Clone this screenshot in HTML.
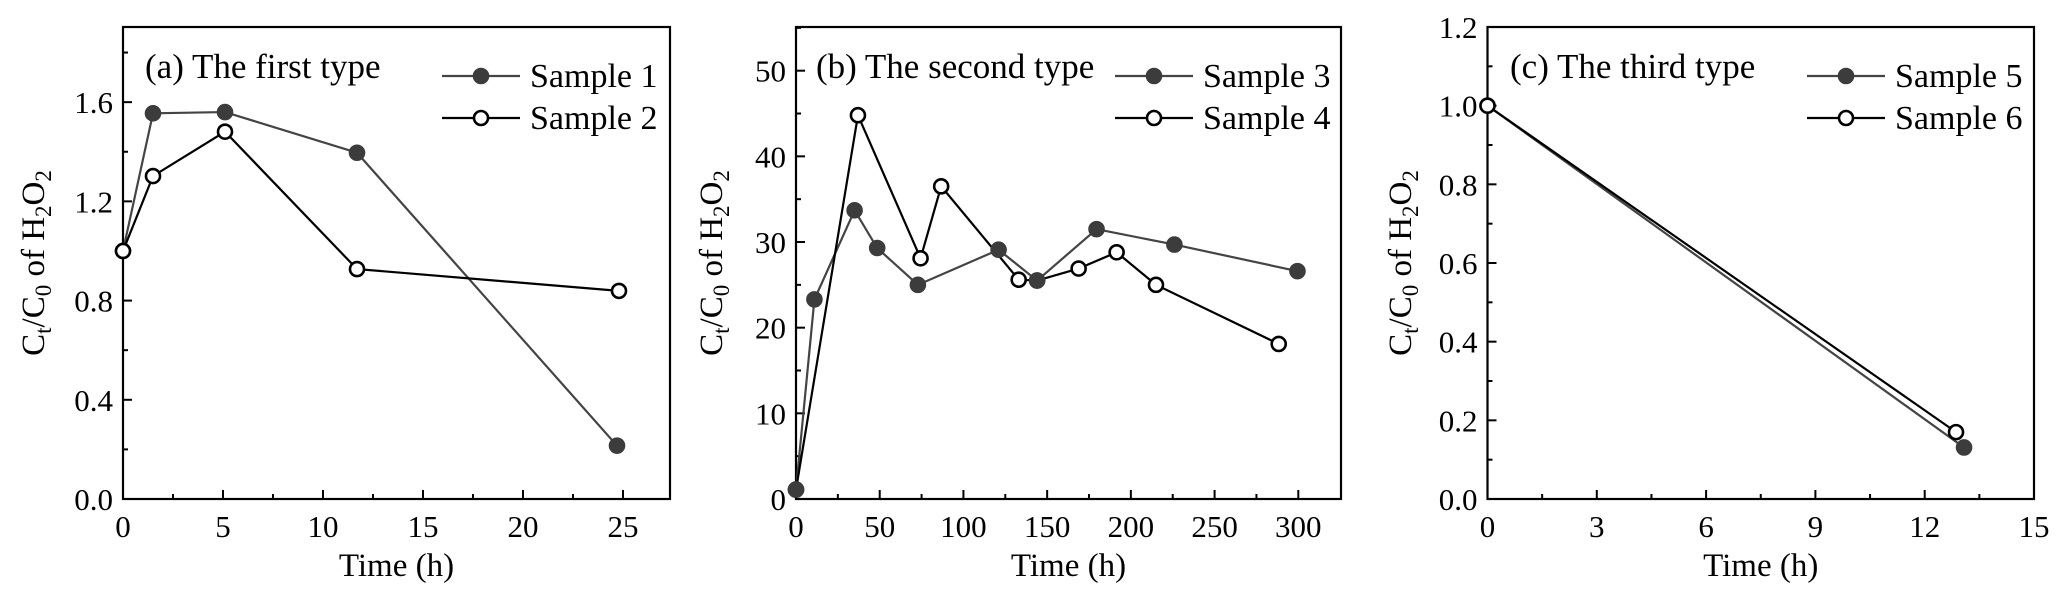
<!DOCTYPE html>
<html><head><meta charset="utf-8"><style>
html,body{margin:0;padding:0;background:#fff;}
svg{display:block;font-family:"Liberation Serif",serif;}
</style></head><body>
<svg id="chart" width="2067" height="611" viewBox="0 0 2067 611" xmlns="http://www.w3.org/2000/svg"></svg>
<script>
// Panel (a)
const aS1x=[0,1.5,5.1,11.7,24.7];
const aS1y=[1.0,1.555,1.56,1.396,0.215];
const aS2x=[0,1.5,5.1,11.7,24.8];
const aS2y=[1.0,1.302,1.481,0.927,0.839];
const aXTicks=[0,5,10,15,20,25];
const aYTicks=[0,0.4,0.8,1.2,1.6];
const aYLabels=["0.0","0.4","0.8","1.2","1.6"];
// Panel (b)
const bS3x=[0,11,35,48.5,72.8,121,144,179.5,226,299.5];
const bS3y=[1.1,23.3,33.7,29.3,25.0,29.1,25.5,31.5,29.7,26.6];
const bS4x=[0,37,74.4,86.7,133,144,168.8,191.5,215,288.3];
const bS4y=[1.1,44.8,28.1,36.5,25.6,25.5,26.9,28.8,25.0,18.1];
const bXTicks=[0,50,100,150,200,250,300];
const bYTicks=[0,10,20,30,40,50];
const bYLabels=["0","10","20","30","40","50"];
// Panel (c)
const cS5x=[0,13.08];
const cS5y=[1.0,0.131];
const cS6x=[0,12.86];
const cS6y=[1.0,0.17];
const cXTicks=[0,3,6,9,12,15];
const cYTicks=[0,0.2,0.4,0.6,0.8,1.0,1.2];
const cYLabels=["0.0","0.2","0.4","0.6","0.8","1.0","1.2"];

const NS="http://www.w3.org/2000/svg";
const svg=document.getElementById('chart');
function mk(tag,attrs,parent){const e=document.createElementNS(NS,tag);for(const k in attrs)e.setAttribute(k,attrs[k]);(parent||svg).appendChild(e);return e;}

function panel(cfg){
  const g=mk('g',{});
  
  
  const L=cfg.left,R=cfg.right,T=27,B=499;
  const sx=v=>L+(v-cfg.xmin)/(cfg.xmax-cfg.xmin)*(R-L);
  const sy=v=>B-(v-cfg.ymin)/(cfg.ymax-cfg.ymin)*(B-T);
  cfg.xTicks.forEach((v,i)=>{
    const t=mk('line',{x1:sx(v),x2:sx(v),y1:B,y2:B-9,stroke:'#000','stroke-width':2},g);
    
    
    const lb=mk('text',{x:sx(v),y:B+38,'text-anchor':'middle','font-size':31},g);
    lb.textContent=String(v);
    
    
    if(i<cfg.xTicks.length-1){
      const m=(v+cfg.xTicks[i+1])/2;
      const mt=mk('line',{x1:sx(m),x2:sx(m),y1:B,y2:B-5,stroke:'#000','stroke-width':2},g);
      
      
    }
  });
  cfg.yTicks.forEach((v,i)=>{
    const t=mk('line',{x1:L,x2:L+9,y1:sy(v),y2:sy(v),stroke:'#000','stroke-width':2},g);
    
    
    const lb=mk('text',{x:L-10,y:sy(v)+11,'text-anchor':'end','font-size':31},g);
    lb.textContent=cfg.yLabels[i];
    
    
    const m=v+(cfg.yTicks[1]-cfg.yTicks[0])/2;
    if(m<cfg.ymax){
      const mt=mk('line',{x1:L,x2:L+5,y1:sy(m),y2:sy(m),stroke:'#000','stroke-width':2},g);
      
      
    }
  });
  const fr=mk('rect',{x:L,y:T,width:R-L,height:B-T,fill:'none',stroke:'#000','stroke-width':2.2},g);
  
  
  const xt=mk('text',{x:(L+R)/2,y:576,'text-anchor':'middle','font-size':33},g);
  xt.textContent='Time (h)';
  
  
  const yt=mk('text',{transform:`translate(${cfg.ytx},${(T+B)/2}) rotate(-90)`,'text-anchor':'middle','font-size':33},g);
  
  
  yt.innerHTML='C<tspan font-size="23" dy="7">t</tspan><tspan dy="-7">/C</tspan><tspan font-size="23" dy="7">0</tspan><tspan dy="-7"> of H</tspan><tspan font-size="23" dy="7">2</tspan><tspan dy="-7">O</tspan><tspan font-size="23" dy="7">2</tspan>';
  const an=mk('text',{x:cfg.annX,y:78,'font-size':35},g);
  an.textContent=cfg.title;
  
  
  cfg.series.forEach((s,si)=>{
    const pts=s.x.map((v,i)=>sx(v)+','+sy(s.y[i])).join(' ');
    const pl=mk('polyline',{points:pts,fill:'none',stroke:s.filled?'#444':'#000','stroke-width':2.2},g);
    
    
  });
  const order=cfg.openOnTop?cfg.series.slice():cfg.series.slice().reverse();
  order.forEach(s=>{
    s.x.forEach((v,i)=>{
      const c=mk('circle',{cx:sx(v),cy:sy(s.y[i]),r:s.filled?7.8:7,fill:s.filled?'#3c3c3c':'#fff',stroke:s.filled?'#3c3c3c':'#000','stroke-width':s.filled?1:2.6},g);
      
      
    });
  });
  cfg.series.forEach((s,i)=>{
    const y=76+i*42;
    const lg=mk('g',{},g);
    
    
    mk('line',{x1:cfg.legX,x2:cfg.legX+78,y1:y,y2:y,stroke:s.filled?'#444':'#000','stroke-width':2.2},lg);
    mk('circle',{cx:cfg.legX+39,cy:y,r:s.filled?7.8:7,fill:s.filled?'#3c3c3c':'#fff',stroke:s.filled?'#3c3c3c':'#000','stroke-width':s.filled?1:2.6},lg);
    const tx=mk('text',{x:cfg.legX+88,y:y+11,'font-size':34},lg);
    tx.textContent=s.name;
  });
}

panel({id:'a',left:123,right:670,xmin:0,xmax:27.35,ymin:0,ymax:1.903,xTicks:aXTicks,yTicks:aYTicks,yLabels:aYLabels,ytx:44,annX:145,title:'(a) The first type',legX:442,openOnTop:true,
  series:[{name:'Sample 1',x:aS1x,y:aS1y,filled:true},{name:'Sample 2',x:aS2x,y:aS2y,filled:false}]});
panel({id:'b',left:796,right:1341,xmin:0,xmax:325.5,ymin:0,ymax:55.1,xTicks:bXTicks,yTicks:bYTicks,yLabels:bYLabels,ytx:722,annX:816,title:'(b) The second type',legX:1115,openOnTop:false,
  series:[{name:'Sample 3',x:bS3x,y:bS3y,filled:true},{name:'Sample 4',x:bS4x,y:bS4y,filled:false}]});
panel({id:'c',left:1487.5,right:2034,xmin:0,xmax:15,ymin:0,ymax:1.2,xTicks:cXTicks,yTicks:cYTicks,yLabels:cYLabels,ytx:1411,annX:1510,title:'(c) The third type',legX:1807,openOnTop:true,
  series:[{name:'Sample 5',x:cS5x,y:cS5y,filled:true},{name:'Sample 6',x:cS6x,y:cS6y,filled:false}]});
</script>
</body></html>
